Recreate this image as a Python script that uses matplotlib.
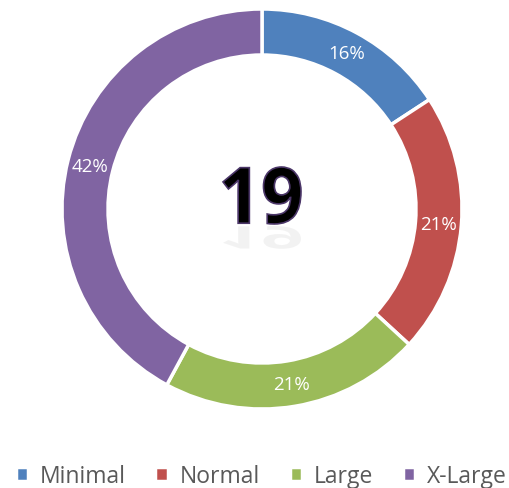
import matplotlib.pyplot as plt
from matplotlib.textpath import TextPath
from matplotlib.patches import PathPatch
from matplotlib.font_manager import FontProperties
from matplotlib.transforms import Affine2D

labels = ['Minimal', 'Normal', 'Large', 'X-Large']
counts = [3, 4, 4, 8]
colors = ['#4F81BD', '#C0504D', '#9BBB59', '#8064A2']
total_label = str(sum(counts))

plt.rcParams['font.family'] = ['Open Sans', 'DejaVu Sans']

fig = plt.figure(figsize=(5.1, 4.89), dpi=100)
ax = fig.add_axes([62/510, 79/489, 400/510, 400/489])

wedges, texts, autotexts = ax.pie(
    counts, colors=colors, startangle=90, counterclock=False,
    radius=1.0, autopct='%1.0f%%', pctdistance=0.885,
    wedgeprops=dict(width=0.23, edgecolor='white', linewidth=2.5),
    textprops=dict(color='white', fontsize=13.5))
ax.set_xlim(-1, 1)
ax.set_ylim(-1, 1)
ax.set_aspect('equal')
ax.axis('off')

# big centre number: outlined, with a faint reflection under it
fp = FontProperties(family='Open Sans', weight='bold')
tp = TextPath((0, 0), total_label, size=1, prop=fp)
bb = tp.get_extents()
shape = Affine2D().translate(-bb.x0 - bb.width / 2, -bb.y0).scale(0.39 / bb.width, 0.285 / bb.height)
num_path = shape.transform_path(tp)
ax.add_patch(PathPatch(num_path, facecolor='black', edgecolor='#4B3668', linewidth=1.2,
                       transform=Affine2D().translate(0, -0.075) + ax.transData))
ax.add_patch(PathPatch(num_path, facecolor='#bbbbbb', edgecolor='none', alpha=0.18,
                       transform=Affine2D().scale(1, -0.4).translate(0, -0.085) + ax.transData))

leg = fig.legend(wedges, labels, loc='center', bbox_to_anchor=(0.512, 12/489),
                 ncol=4, frameon=False, fontsize=16.5, handlelength=0.55, handleheight=0.55,
                 handletextpad=0.5, columnspacing=1.3)
for t in leg.get_texts():
    t.set_color('#595959')

fig.savefig('out.png', dpi=100)
